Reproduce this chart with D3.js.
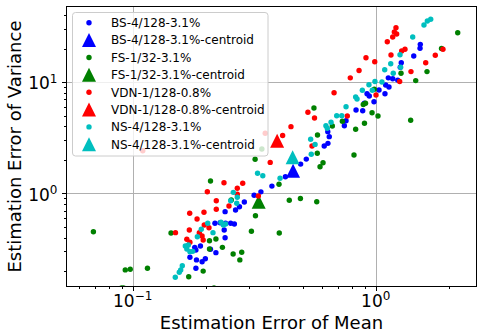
<!DOCTYPE html>
<html>
<head>
<meta charset="utf-8">
<script src="https://cdn.jsdelivr.net/npm/d3@7"></script>
<style>
  body { margin: 0; background: #fff; }
  svg { display: block; font-family: "DejaVu Sans", sans-serif; }
</style>
</head>
<body>
<svg id="chart" width="477" height="335"></svg>
<script>
// series names and colours, legend order
var seriesNames = ["BS-4/128-3.1%", "FS-1/32-3.1%", "VDN-1/128-0.8%", "NS-4/128-3.1%"];
var seriesColors = ["#0000ff", "#008000", "#ff0000", "#00bfbf"];

// [mean error, variance error]
var bsPoints = [[1.526,21.8],[1.522,20.1],[1.434,17.1],[1.274,14.9],[1.262,13.6],[1.175,10.7],[1.127,10.9],[1.232,10.4],[1.099,9.40],[1.134,9.02],[1.092,7.85],[1.032,8.48],[0.921,7.85],[0.941,7.48],[0.984,6.65],[0.898,6.44],[0.884,5.52],[0.830,5.60],[0.743,4.05],[0.755,4.49],[0.635,3.58],[0.644,3.23],[0.636,2.81],[0.614,2.66],[0.518,2.03],[0.491,1.83],[0.425,1.41],[0.374,1.16],[0.337,1.03],[0.316,0.96],[0.288,0.835],[0.275,0.758],[0.265,0.708],[0.240,0.684],[0.218,0.538],[0.229,0.544],[0.241,0.538],[0.253,0.538],[0.262,0.530],[0.238,0.468],[0.240,0.399],[0.190,0.336],[0.180,0.327],[0.182,0.309],[0.209,0.314],[0.220,0.293],[0.172,0.266],[0.183,0.252],[0.193,0.243],[0.199,0.258],[0.182,0.212]];
var fsPoints = [[0.0689,0.452],[0.0899,0.141],[0.0917,0.141],[0.0932,0.205],[0.0977,0.208],[0.115,0.212],[0.216,0.141],[0.1438,0.440],[0.170,0.178],[0.195,0.200],[0.207,0.316],[0.207,0.375],[0.220,0.388],[0.234,0.327],[0.259,0.285],[0.281,0.295],[0.276,0.252],[0.209,1.29],[0.2545,0.871],[0.320,0.629],[0.308,0.456],[0.401,0.440],[0.400,1.205],[0.441,0.865],[0.490,0.898],[0.572,0.840],[0.590,1.734],[0.607,1.883],[0.814,2.21],[0.319,2.02],[0.340,2.50],[0.557,5.84],[0.576,3.34],[0.575,2.29],[0.663,4.02],[0.729,4.44],[0.827,3.76],[0.899,4.26],[0.889,6.28],[0.908,6.44],[0.966,5.30],[1.022,4.95],[0.987,8.60],[1.271,12.0],[1.461,10.3],[1.393,4.53],[1.626,12.4],[1.866,20.0],[2.175,27.7]];
var vdnPoints = [[1.212,30.7],[1.193,28.1],[1.220,27.0],[1.175,25.4],[1.116,23.0],[0.912,16.5],[0.991,15.2],[1.156,17.5],[1.279,19.0],[1.320,19.7],[0.854,12.7],[0.786,10.9],[1.397,12.4],[1.606,14.9],[1.759,17.4],[1.892,19.7],[1.255,10.1],[0.674,8.01],[1.003,7.64],[0.764,4.95],[0.526,5.35],[0.560,4.75],[0.448,3.97],[0.414,3.31],[0.351,3.46],[0.110,2.41],[0.368,1.895],[0.547,2.66],[0.2375,1.245],[0.2836,1.23],[0.2694,1.109],[0.2028,1.034],[0.2208,0.858],[0.249,0.769],[0.2208,0.718],[0.1716,0.661],[0.1965,0.675],[0.184,0.588],[0.171,0.468],[0.150,0.443],[0.197,0.519],[0.206,0.491],[0.188,0.443],[0.193,0.4135],[0.167,0.386],[0.172,0.363],[0.195,0.381],[0.329,0.946],[0.2694,0.98]];
var nsPoints = [[1.684,36.6],[1.631,35.3],[1.580,32.5],[1.420,25.4],[1.259,17.6],[1.153,14.6],[1.267,13.6],[1.089,12.9],[1.181,12.0],[0.993,10.1],[1.061,10.0],[0.938,9.46],[0.881,8.42],[0.968,8.42],[0.827,7.33],[0.838,7.04],[0.755,6.00],[0.691,4.98],[0.725,4.98],[0.655,4.35],[0.624,4.05],[0.632,3.84],[0.540,3.06],[0.563,2.75],[0.543,2.24],[0.404,1.364],[0.3264,1.513],[0.343,1.439],[0.2594,1.02],[0.2694,0.921],[0.253,0.858],[0.268,0.813],[0.2036,0.538],[0.2308,0.549],[0.236,0.519],[0.241,0.530],[0.1915,0.475],[0.1845,0.407],[0.214,0.443],[0.1646,0.336],[0.167,0.316],[0.172,0.299],[0.1766,0.301],[0.1694,0.343],[0.160,0.2236],[0.1576,0.205],[0.1555,0.195],[0.1497,0.176]];

// one centroid per series
var centroids = [[0.457,1.596],[0.330,0.840],[0.393,2.97],[0.455,2.11]];

// major ticks (labelled as powers of ten)
var xMajor = [-1, 0];
var yMajor = [0, 1];
var xMinor = [0.06,0.07,0.08,0.09,0.2,0.3,0.4,0.5,0.6,0.7,0.8,0.9,2];
var yMinor = [0.2,0.3,0.4,0.5,0.6,0.7,0.8,0.9,2,3,4,5,6,7,8,9,20,30,40];

var allPoints = [bsPoints, fsPoints, vdnPoints, nsPoints];

var svg = d3.select("#chart");
var margin = { top: 6.5, right: 0.5, bottom: 48.5, left: 66.5 };
var W = 477, H = 335;

var x = d3.scaleLog().domain([0.0534, 2.599]).range([margin.left, W - margin.right]);
var y = d3.scaleLog().domain([0.1454, 47.69]).range([H - margin.bottom, margin.top]);

var x0 = margin.left, x1 = W - margin.right;
var y0 = H - margin.bottom, y1 = margin.top;

svg.append("clipPath").attr("id", "plotclip")
    .append("rect")
    .attr("x", x0).attr("y", y1)
    .attr("width", x1 - x0).attr("height", y0 - y1);

// grid
var grid = svg.append("g").attr("stroke", "#b0b0b0").attr("stroke-width", 1);
xMajor.forEach(function (e) {
    var px = Math.round(x(Math.pow(10, e))) + 0.5;
    grid.append("line").attr("x1", px).attr("x2", px).attr("y1", y1).attr("y2", y0);
});
yMajor.forEach(function (e) {
    var py = Math.round(y(Math.pow(10, e))) + 0.5;
    grid.append("line").attr("x1", x0).attr("x2", x1).attr("y1", py).attr("y2", py);
});

// points and centroids
var plot = svg.append("g").attr("clip-path", "url(#plotclip)");
function tri(cx, cy, s) {
    return "M" + cx + "," + (cy - s) + "L" + (cx - s) + "," + (cy + s) + "L" + (cx + s) + "," + (cy + s) + "Z";
}
allPoints.forEach(function (pts, i) {
    plot.append("g")
        .selectAll("circle")
        .data(pts)
        .enter()
        .append("circle")
        .attr("cx", d => x(d[0]))
        .attr("cy", d => y(d[1]))
        .attr("r", 2.7)
        .attr("fill", seriesColors[i]);
    plot.append("path")
        .attr("d", tri(x(centroids[i][0]), y(centroids[i][1]), 7))
        .attr("fill", seriesColors[i]);
});

// frame
svg.append("rect")
    .attr("x", x0).attr("y", y1)
    .attr("width", x1 - x0).attr("height", y0 - y1)
    .attr("fill", "none").attr("stroke", "#000").attr("stroke-width", 1);

// ticks
var ticks = svg.append("g").attr("stroke", "#000").attr("stroke-width", 1);
xMajor.forEach(function (e) {
    var px = Math.round(x(Math.pow(10, e))) + 0.5;
    ticks.append("line").attr("x1", px).attr("x2", px).attr("y1", y0).attr("y2", y0 + 4.5);
});
xMinor.forEach(function (v) {
    var px = Math.round(x(v)) + 0.5;
    ticks.append("line").attr("x1", px).attr("x2", px).attr("y1", y0).attr("y2", y0 + 2.5);
});
yMajor.forEach(function (e) {
    var py = Math.round(y(Math.pow(10, e))) + 0.5;
    ticks.append("line").attr("x1", x0 - 4.5).attr("x2", x0).attr("y1", py).attr("y2", py);
});
yMinor.forEach(function (v) {
    var py = Math.round(y(v)) + 0.5;
    ticks.append("line").attr("x1", x0 - 2.5).attr("x2", x0).attr("y1", py).attr("y2", py);
});

function expLabel(sel, e) {
    sel.append("tspan").text("10");
    sel.append("tspan").attr("dy", -6.5).attr("font-size", 12)
        .text(e < 0 ? "\u2212" + (-e) : "" + e);
}
xMajor.forEach(function (e) {
    var t = svg.append("text")
        .attr("x", x(Math.pow(10, e)))
        .attr("y", 306.8)
        .attr("text-anchor", "middle")
        .attr("font-size", 17);
    expLabel(t, e);
});
yMajor.forEach(function (e) {
    var t = svg.append("text")
        .attr("x", 57.5)
        .attr("y", y(Math.pow(10, e)) + 7.3)
        .attr("text-anchor", "end")
        .attr("font-size", 17);
    expLabel(t, e);
});

// axis labels
svg.append("text")
    .attr("x", (x0 + x1) / 2).attr("y", 329)
    .attr("text-anchor", "middle").attr("font-size", 18)
    .text("Estimation Error of Mean");
svg.append("text")
    .attr("transform", "translate(20.5," + ((y0 + y1) / 2) + ") rotate(-90)")
    .attr("text-anchor", "middle").attr("font-size", 18)
    .text("Estimation Error of Variance");

// legend
var legend = svg.append("g");
legend.append("rect")
    .attr("x", 72.5).attr("y", 12.5)
    .attr("width", 195.5).attr("height", 143.5)
    .attr("rx", 3)
    .attr("fill", "#fff").attr("fill-opacity", 0.8)
    .attr("stroke", "#cccccc").attr("stroke-width", 1);
var rowY = 22.7, rowStep = 17.37;
seriesNames.forEach(function (name, i) {
    var ya = rowY + rowStep * (2 * i);
    var yb = rowY + rowStep * (2 * i + 1);
    legend.append("circle").attr("cx", 89).attr("cy", ya).attr("r", 2.7).attr("fill", seriesColors[i]);
    legend.append("text").attr("x", 111).attr("y", ya).attr("dy", "0.36em")
        .attr("font-size", 12).text(name);
    legend.append("path").attr("d", tri(89, yb, 7)).attr("fill", seriesColors[i]);
    legend.append("text").attr("x", 111).attr("y", yb).attr("dy", "0.36em")
        .attr("font-size", 12).text(name + "-centroid");
});
</script>
</body>
</html>
